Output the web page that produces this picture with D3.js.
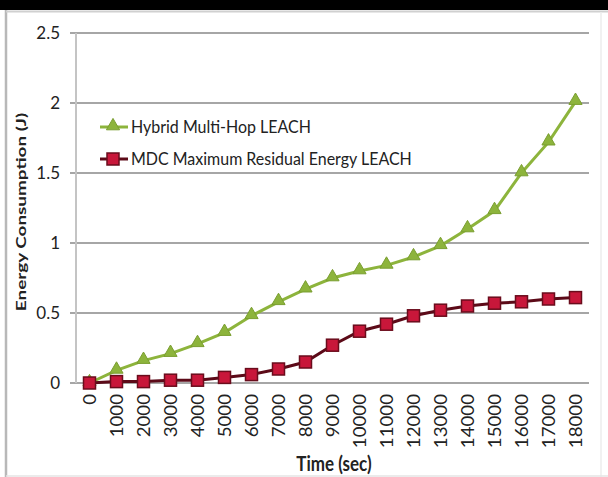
<!DOCTYPE html>
<html>
<head>
<meta charset="utf-8">
<style>
    body { margin: 0; background: #fff; }
    text { font-family: Lato, "Open Sans", sans-serif; fill: #222; }
    .grid line { stroke: #a6a6a6; stroke-width: 2px; }
</style>
</head>
<body>
<svg id="chart" width="608" height="477"></svg>

<script src="https://cdn.jsdelivr.net/npm/d3@7"></script>
<script>
// chart data
var times = ["0", "1000", "2000", "3000", "4000", "5000", "6000", "7000", "8000", "9000",
    "10000", "11000", "12000", "13000", "14000", "15000", "16000", "17000", "18000"];
var hybridMultiHop = [0, 0.09, 0.16, 0.21, 0.28, 0.36, 0.48, 0.58, 0.67, 0.75,
    0.80, 0.84, 0.90, 0.98, 1.10, 1.23, 1.50, 1.72, 2.01];
var mdcResidual = [0, 0.01, 0.01, 0.02, 0.02, 0.04, 0.06, 0.10, 0.15, 0.27,
    0.37, 0.42, 0.48, 0.52, 0.55, 0.57, 0.58, 0.60, 0.61];
var yTicks = [0, 0.5, 1, 1.5, 2, 2.5];
var seriesNames = ["Hybrid Multi-Hop LEACH", "MDC Maximum Residual Energy LEACH"];

var svg = d3.select("#chart"),
    width = +svg.attr("width"),
    height = +svg.attr("height");

var plot = {left: 76, right: 589, top: 33, bottom: 383};

var green = "#8db43c", red = "#c8173a", redEdge = "#6a0c1c", redLine = "#5c0a18";

// frame of the original picture
svg.append("rect").attr("x", 0).attr("y", 0).attr("width", width).attr("height", 10).attr("fill", "#000");
svg.append("line").attr("x1", 6).attr("x2", 6).attr("y1", 10).attr("y2", height)
    .attr("stroke", "#b8b8b8").attr("stroke-width", 2.5);
svg.append("line").attr("x1", 6).attr("x2", width).attr("y1", 11.5).attr("y2", 11.5)
    .attr("stroke", "#d0d0d0").attr("stroke-width", 2);
svg.append("line").attr("x1", 601).attr("x2", 601).attr("y1", 12).attr("y2", height)
    .attr("stroke", "#ececec").attr("stroke-width", 1.5);
svg.append("line").attr("x1", 6).attr("x2", width).attr("y1", 476).attr("y2", 476)
    .attr("stroke", "#e4e4e4").attr("stroke-width", 1.5);

var x = d3.scaleBand().domain(times).range([plot.left, plot.right]);
var y = d3.scaleLinear().domain([0, 2.5]).range([plot.bottom, plot.top]);
var cx = function(t) { return x(t) + x.bandwidth() / 2; };

// gridlines + left tick marks
svg.append("g").attr("class", "grid")
    .selectAll("line").data(yTicks).enter().append("line")
    .attr("x1", plot.left - 6).attr("x2", plot.right)
    .attr("y1", function(d) { return y(d); })
    .attr("y2", function(d) { return y(d); });

svg.append("line")
    .attr("x1", plot.left).attr("x2", plot.left)
    .attr("y1", plot.top).attr("y2", plot.bottom)
    .attr("stroke", "#c4c4c4").attr("stroke-width", 2);

// y tick labels
svg.append("g").selectAll("text").data(yTicks).enter().append("text")
    .attr("x", 60)
    .attr("y", function(d) { return y(d); })
    .attr("dy", "0.35em")
    .attr("text-anchor", "end")
    .attr("font-size", "17px")
    .text(function(d) { return d; });

// x tick labels, rotated
svg.append("g").selectAll("text").data(times).enter().append("text")
    .attr("transform", function(d) { return "translate(" + (cx(d) + 6) + ",394) scale(1,1.1) rotate(-90)"; })
    .attr("text-anchor", "end")
    .attr("font-size", "17px")
    .text(function(d) { return d; });

// axis titles
svg.append("text")
    .attr("transform", "translate(26,212) scale(1,1.35) rotate(-90)")
    .attr("text-anchor", "middle")
    .attr("font-size", "14px")
    .attr("font-weight", "bold")
    .text("Energy Consumption (J)");

svg.append("text")
    .attr("x", 334).attr("y", 471)
    .attr("transform", "translate(0,-94) scale(1,1.2)")
    .attr("text-anchor", "middle")
    .attr("font-size", "17px")
    .attr("font-weight", "bold")
    .text("Time (sec)");

var line = d3.line()
    .x(function(d, i) { return cx(times[i]); })
    .y(function(d) { return y(d); });

var triangle = d3.symbol().type(d3.symbolTriangle).size(75);

// green series
svg.append("path").datum(hybridMultiHop)
    .attr("d", line)
    .attr("fill", "none").attr("stroke", green).attr("stroke-width", 3);
svg.append("g").selectAll("path").data(hybridMultiHop).enter().append("path")
    .attr("d", triangle)
    .attr("transform", function(d, i) { return "translate(" + cx(times[i]) + "," + (y(d) - 1) + ")"; })
    .attr("fill", green).attr("stroke", "#7a9e30").attr("stroke-width", 1);

// red series
svg.append("path").datum(mdcResidual)
    .attr("d", line)
    .attr("fill", "none").attr("stroke", redLine).attr("stroke-width", 3);
svg.append("g").selectAll("rect").data(mdcResidual).enter().append("rect")
    .attr("x", function(d, i) { return cx(times[i]) - 6; })
    .attr("y", function(d) { return y(d) - 6; })
    .attr("width", 12).attr("height", 12)
    .attr("fill", red).attr("stroke", redEdge).attr("stroke-width", 1.5);

// legend
var legend = svg.append("g");
var legendY = [127, 159];

legend.selectAll("line").data(legendY).enter().append("line")
    .attr("x1", 100).attr("x2", 128)
    .attr("y1", function(d) { return d; }).attr("y2", function(d) { return d; })
    .attr("stroke", function(d, i) { return i ? redLine : green; })
    .attr("stroke-width", 3);

legend.append("path")
    .attr("d", triangle)
    .attr("transform", "translate(113," + (legendY[0] - 1) + ")")
    .attr("fill", green).attr("stroke", "#7a9e30");
legend.append("rect")
    .attr("x", 107).attr("y", legendY[1] - 6)
    .attr("width", 12).attr("height", 12)
    .attr("fill", red).attr("stroke", redEdge).attr("stroke-width", 1.5);

legend.selectAll("text").data(seriesNames).enter().append("text")
    .attr("transform", function(d, i) { return "translate(131," + legendY[i] + ") scale(1,1.1)"; })
    .attr("dy", "0.35em")
    .attr("font-size", "16px")
    .text(function(d) { return d; });
</script>
</body>
</html>
